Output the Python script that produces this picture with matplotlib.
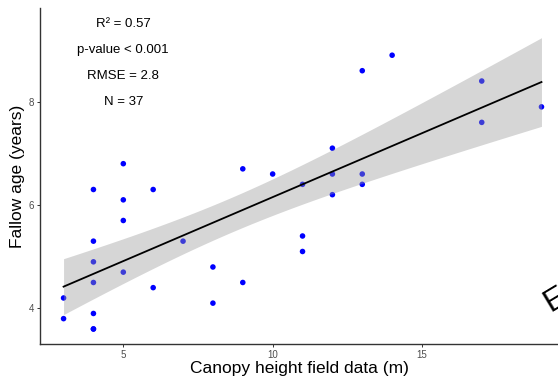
import numpy as np
import matplotlib
matplotlib.use("Agg")
import matplotlib.pyplot as plt

plt.rcParams['font.family'] = ['Liberation Sans', 'DejaVu Sans']

# Data
canopy_height = [3, 3, 4, 4, 4, 4, 4, 4, 4,
                 5, 5, 5, 5,
                 6, 6, 7, 8, 8, 9, 9, 10,
                 11, 11, 11, 12, 12, 12, 13, 13, 13, 14, 17, 17, 19]
fallow_age = [4.2, 3.8, 6.3, 5.3, 4.9, 4.5, 3.9, 3.6, 3.6,
              6.8, 6.1, 5.7, 4.7,
              6.3, 4.4, 5.3, 4.8, 4.1, 6.7, 4.5, 6.6,
              6.4, 5.4, 5.1, 7.1, 6.6, 6.2, 8.6, 6.6, 6.4, 8.9, 8.4, 7.6, 7.9]
stats_labels = ["R\u00b2 = 0.57", "p-value < 0.001", "RMSE = 2.8", "N = 37"]
stats_y = [9.5, 9.0, 8.5, 8.0]
t_crit = 2.03

x = np.array(canopy_height, float)
y = np.array(fallow_age, float)
n = len(x)
slope, intercept = np.polyfit(x, y, 1)
resid = y - (slope * x + intercept)
s = np.sqrt(np.sum(resid ** 2) / (n - 2))
xbar = x.mean()
sxx = np.sum((x - xbar) ** 2)
xs = np.linspace(x.min(), x.max(), 100)
ys = slope * xs + intercept
se = s * np.sqrt(1 / n + (xs - xbar) ** 2 / sxx)

fig = plt.figure(figsize=(5.58, 3.89), dpi=100)
ax = fig.add_axes([40 / 558, 45 / 389, 518 / 558, 336 / 389])

ax.scatter(x, y, s=16, color='#0000FF', edgecolors='none', zorder=2)
ax.fill_between(xs, ys - t_crit * se, ys + t_crit * se, color='#999999', alpha=0.4,
                linewidth=0, zorder=3)
ax.plot(xs, ys, color='black', linewidth=1.3, zorder=4)

for lab, yy in zip(stats_labels, stats_y):
    ax.text(5, yy, lab, ha='center', va='center', fontsize=9.5, color='black', zorder=5)

ax.set_xlim(2.211, 19.553)
ax.set_ylim(3.309, 9.814)
ax.set_xticks([5, 10, 15])
ax.set_yticks([4, 6, 8])
ax.tick_params(axis='both', labelsize=7, labelcolor='#4D4D4D', color='#333333',
               length=2.5, width=0.7, pad=2)
for side in ['top', 'right']:
    ax.spines[side].set_visible(False)
for side in ['left', 'bottom']:
    ax.spines[side].set_color('#333333')
    ax.spines[side].set_linewidth(1.0)

ax.set_xlabel("Canopy height field data (m)", fontsize=12.5, color='black')
ax.set_ylabel("Fallow age (years)", fontsize=12.5, color='black')
ax.xaxis.set_label_coords(0.5, -0.052)
ax.yaxis.set_label_coords(-0.043, 0.5)
ax.xaxis.label.set_va('top')
ax.yaxis.label.set_va('center')

fig.text(550 / 558, 1 - 312 / 389, "Ex", fontsize=23, rotation=31,
         rotation_mode='anchor', ha='left', va='baseline', color='black')

fig.savefig("out.png", dpi=100)
